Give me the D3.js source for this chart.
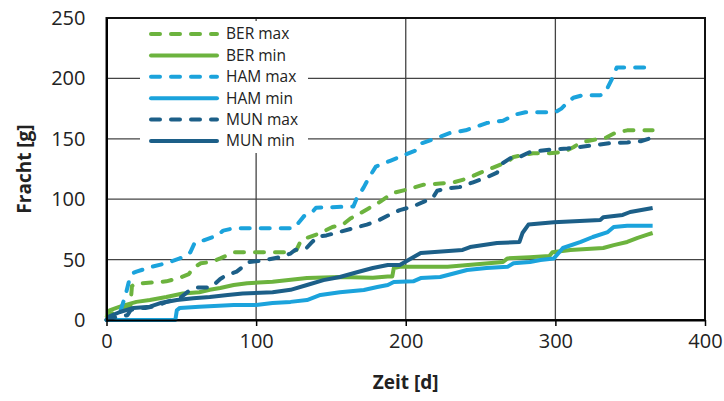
<!DOCTYPE html>
<html>
<head>
<meta charset="utf-8">
<script src="https://cdn.jsdelivr.net/npm/d3@7"></script>
<style>
  html, body { margin: 0; padding: 0; background: #fff; }
  svg { display: block; font-family: "Open Sans", "DejaVu Sans", sans-serif; }
</style>
</head>
<body>
<svg id="chart" width="724" height="401"></svg>
<script>
// ---- data (day, cumulative load in g) ----
const seriesNames = ["BER max", "BER min", "HAM max", "HAM min", "MUN max", "MUN min"];
const xTicks = [0, 100, 200, 300, 400];
const yTicks = [0, 50, 100, 150, 200, 250];

const berMax = [[0,0],[3,5],[10,10],[16,12],[17,28],[19,30],[30,31],[40,32],[49,35],[55,38],[58,43],[63,47],[70,48],[76,51],[85,56],[95,56],[123,56],[127,58],[130,66],[134,68],[143,72],[151,77],[158,79],[163,84],[169,88],[176,93],[183,98],[191,105],[201,108],[212,112],[223,113],[232,114],[241,117],[250,122],[258,126],[268,131],[272,135],[285,138],[296,138],[305,139],[312,143],[317,147],[325,149],[334,151],[340,155],[348,157],[365,157]];
const berMin = [[0,2],[2,8],[9,11],[17,14],[20,15],[29,16.5],[40,19],[51,22],[62,23],[69,25],[76,26.5],[85,29],[94,30.5],[111,31.6],[134,34.7],[156,35.6],[178,35],[188,36],[191,36],[192,43],[196,44],[228,44],[265,48],[268,51],[283,52],[296,53],[298,56],[310,58],[332,59.6],[339,62],[348,64.6],[355,68],[361,70.4],[365,72]];
const hamMax = [[0,0],[8,2],[10,10],[13,22],[15,32],[18,39],[20,40],[30,44],[40,47],[49,51],[56,56],[59,64],[65,66],[74,70],[78,74],[85,76],[125,76],[128,80],[132,86],[138,90],[140,93],[165,94],[167,100],[172,110],[175,117],[180,127],[190,132],[200,137],[206,140],[210,146],[219,150],[230,155],[240,157],[254,163],[265,165],[273,170],[280,172],[300,172],[304,175],[308,180],[312,184],[318,186],[330,186],[334,190],[338,200],[341,209],[365,209]];
const hamMin = [[0,0],[46,0],[47,8],[49,10],[62,11],[85,12.4],[100,12.4],[111,14],[123,15],[134,16.5],[143,20.7],[156,23],[172,24.8],[181,27.3],[188,29],[192,31.5],[205,32],[210,34.7],[223,35.6],[241,41.4],[254,43],[268,44],[272,47],[283,48],[290,49.7],[299,51],[305,59.6],[317,64.6],[325,68.7],[335,72.8],[339,77],[348,78],[365,78]];
const munMax = [[0,0],[5,2],[14,4],[16,8],[20,10],[26,10],[34,12],[40,15],[49,18],[55,24],[60,27],[70,27],[76,34],[80,37],[87,40],[91,44],[95,48],[103,49],[116,52],[123,55],[126,58],[134,60],[137,64],[141,69],[147,70],[156,73],[165,76],[174,79],[181,82],[189,87],[196,91],[205,94],[214,99],[218,101],[221,107],[228,109],[236,110],[245,114],[254,118],[261,122],[265,130],[270,134],[276,135],[283,139],[296,141],[308,142],[315,143],[328,145],[337,146.5],[348,147],[357,148],[365,151]];
const munMin = [[0,0],[2,3],[9,6.6],[18,10],[29,11],[36,14],[47,16.5],[58,18],[69,19],[81,20.7],[91,22],[111,23],[123,25],[134,29],[145,33],[156,35.6],[168,39.7],[178,43],[188,45.5],[196,45.5],[205,52],[210,55.5],[238,58],[243,60.4],[261,63.7],[276,64.6],[278,72],[282,79],[299,81],[330,82.8],[332,85],[345,87],[350,89.4],[365,92.7]];

const seriesData = [berMax, berMin, hamMax, hamMin, munMax, munMin];
const seriesColors = ["#6cb33e", "#6cb33e", "#1ba3dc", "#1ba3dc", "#1c5f88", "#1c5f88"];
const seriesDashed = [true, false, true, false, true, false];

// ---- layout ----
const svg = d3.select("#chart");
const m = { left: 106.5, right: 705, top: 18, bottom: 320 };

const x = d3.scaleLinear().domain([0, 400]).range([m.left, m.right]);
const y = d3.scaleLinear().domain([0, 250]).range([m.bottom, m.top]);

// gridlines
const grid = svg.append("g");
grid.selectAll("line.h").data(yTicks.filter(v => v > 0 && v < 250)).join("line")
  .attr("x1", m.left).attr("x2", m.right)
  .attr("y1", d => y(d)).attr("y2", d => y(d))
  .attr("stroke", "#444").attr("stroke-width", 1.3);
grid.selectAll("line.v").data(xTicks.filter(v => v > 0 && v < 400)).join("line")
  .attr("x1", d => x(d)).attr("x2", d => x(d))
  .attr("y1", m.top).attr("y2", m.bottom)
  .attr("stroke", "#444").attr("stroke-width", 1.3);

// frame
svg.append("rect")
  .attr("x", m.left).attr("y", m.top)
  .attr("width", m.right - m.left).attr("height", m.bottom - m.top)
  .attr("fill", "none").attr("stroke", "#111").attr("stroke-width", 2);

// legend background (covers gridlines)
svg.append("rect")
  .attr("x", 140).attr("y", 21).attr("width", 168).attr("height", 132)
  .attr("fill", "#fff");

// lines
const line = d3.line().x(d => x(d[0])).y(d => y(d[1]));
const lineG = svg.append("g");
seriesData.forEach((data, i) => {
  lineG.append("path")
    .datum(data)
    .attr("d", line)
    .attr("fill", "none")
    .attr("stroke", seriesColors[i])
    .attr("stroke-width", 4)
    .attr("stroke-linejoin", "round")
    .attr("stroke-linecap", seriesDashed[i] ? "round" : "butt")
    .attr("stroke-dasharray", seriesDashed[i] ? "9,11" : null);
});

// axes
const xAxis = d3.axisBottom(x).tickValues(xTicks).tickSize(6).tickSizeOuter(0).tickPadding(8);
const yAxis = d3.axisLeft(y).tickValues(yTicks).tickSize(0).tickSizeOuter(0).tickPadding(21);

const gx = svg.append("g").attr("transform", `translate(0,${m.bottom})`).call(xAxis);
gx.select(".domain").attr("stroke", "#000").attr("stroke-width", 2);
gx.selectAll(".tick line").attr("stroke", "#000").attr("stroke-width", 1.5);
gx.selectAll(".tick text").attr("font-size", 20).attr("fill", "#222")
  .attr("font-family", "'Open Sans', sans-serif");

const gy = svg.append("g").attr("transform", `translate(${m.left},0)`).call(yAxis);
gy.select(".domain").attr("stroke", "#000").attr("stroke-width", 2);
gy.selectAll(".tick text").attr("font-size", 20).attr("fill", "#222")
  .attr("font-family", "'Open Sans', sans-serif");

// axis titles
svg.append("text")
  .attr("x", (m.left + m.right) / 2).attr("y", 389)
  .attr("text-anchor", "middle")
  .attr("font-size", 19).attr("font-weight", "bold").attr("fill", "#222")
  .text("Zeit [d]");
svg.append("text")
  .attr("transform", `translate(31,${(m.top + m.bottom) / 2}) rotate(-90)`)
  .attr("text-anchor", "middle")
  .attr("font-size", 19).attr("font-weight", "bold").attr("fill", "#222")
  .text("Fracht [g]");

// legend
const leg = svg.append("g");
seriesNames.forEach((name, i) => {
  const yy = 34 + i * 21.4;
  leg.append("line")
    .attr("x1", 151).attr("x2", 217).attr("y1", yy).attr("y2", yy)
    .attr("stroke", seriesColors[i]).attr("stroke-width", 4)
    .attr("stroke-linecap", "round")
    .attr("stroke-dasharray", seriesDashed[i] ? "9,11" : null);
  leg.append("text")
    .attr("x", 226).attr("y", yy).attr("dy", "0.35em")
    .attr("font-size", 15.5).attr("fill", "#222")
    .text(name);
});
</script>
</body>
</html>
